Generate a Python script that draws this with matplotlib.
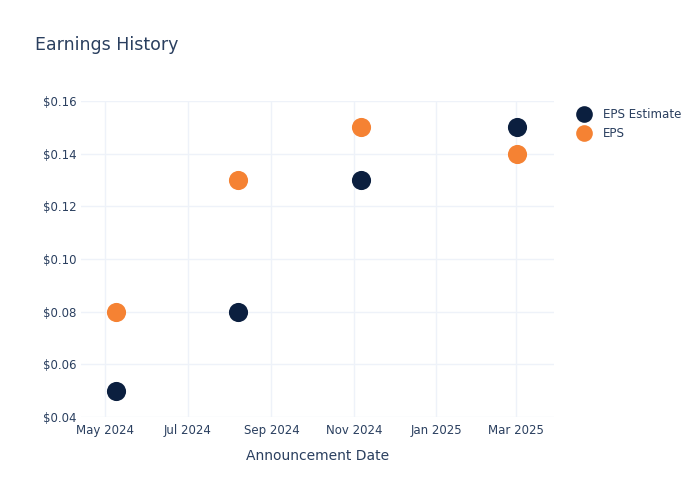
import matplotlib.pyplot as plt
import matplotlib.dates as mdates
import matplotlib.ticker as mticker
from matplotlib.lines import Line2D
import numpy as np

dates = np.array(['2024-05-09', '2024-08-07', '2024-11-06', '2025-03-02'], dtype='datetime64[D]')
eps_estimate = [0.05, 0.08, 0.13, 0.15]
eps_actual = [0.08, 0.13, 0.15, 0.14]

navy = '#0b1f3f'
orange = '#f58233'
txt = '#2a3f5f'
grid = '#eef2f9'

fig = plt.figure(figsize=(7, 5), dpi=100)
ax = fig.add_axes([0.1157, 0.166, 0.6753, 0.632])

ax.scatter(dates, eps_estimate, s=190, color=navy, zorder=3, linewidths=0)
ax.scatter(dates, eps_actual, s=190, color=orange, zorder=3, linewidths=0)

ax.set_xlim(np.datetime64('2024-04-13'), np.datetime64('2025-03-29'))
ax.set_ylim(0.04, 0.16)
ax.yaxis.set_major_locator(mticker.MultipleLocator(0.02))
ax.yaxis.set_major_formatter(mticker.FuncFormatter(lambda v, p: f'${v:.2f}'))
ax.xaxis.set_major_locator(mdates.MonthLocator(bymonth=[1, 3, 5, 7, 9, 11]))
ax.xaxis.set_major_formatter(mdates.DateFormatter('%b %Y'))

ax.grid(True, color=grid, linewidth=1)
ax.set_axisbelow(True)
for s in ax.spines.values():
    s.set_visible(False)
ax.tick_params(axis='both', length=0, labelsize=8.5, labelcolor=txt)
ax.tick_params(axis='y', pad=3)
ax.tick_params(axis='x', pad=5)

ax.set_xlabel('Announcement Date', fontsize=10, color=txt, labelpad=9)
fig.text(0.05, 0.911, 'Earnings History', fontsize=12.5, color=txt, va='center')

handles = [
    Line2D([], [], marker='o', linestyle='', markersize=12, color=navy, markeredgewidth=0),
    Line2D([], [], marker='o', linestyle='', markersize=12, color=orange, markeredgewidth=0),
]
fig.legend(handles, ['EPS Estimate', 'EPS'], loc='upper left', bbox_to_anchor=(0.808, 0.806),
           frameon=False, fontsize=8.6, labelcolor=txt, handletextpad=1.0, labelspacing=0.55,
           handlelength=1.2)

fig.savefig('out.png', dpi=100)
